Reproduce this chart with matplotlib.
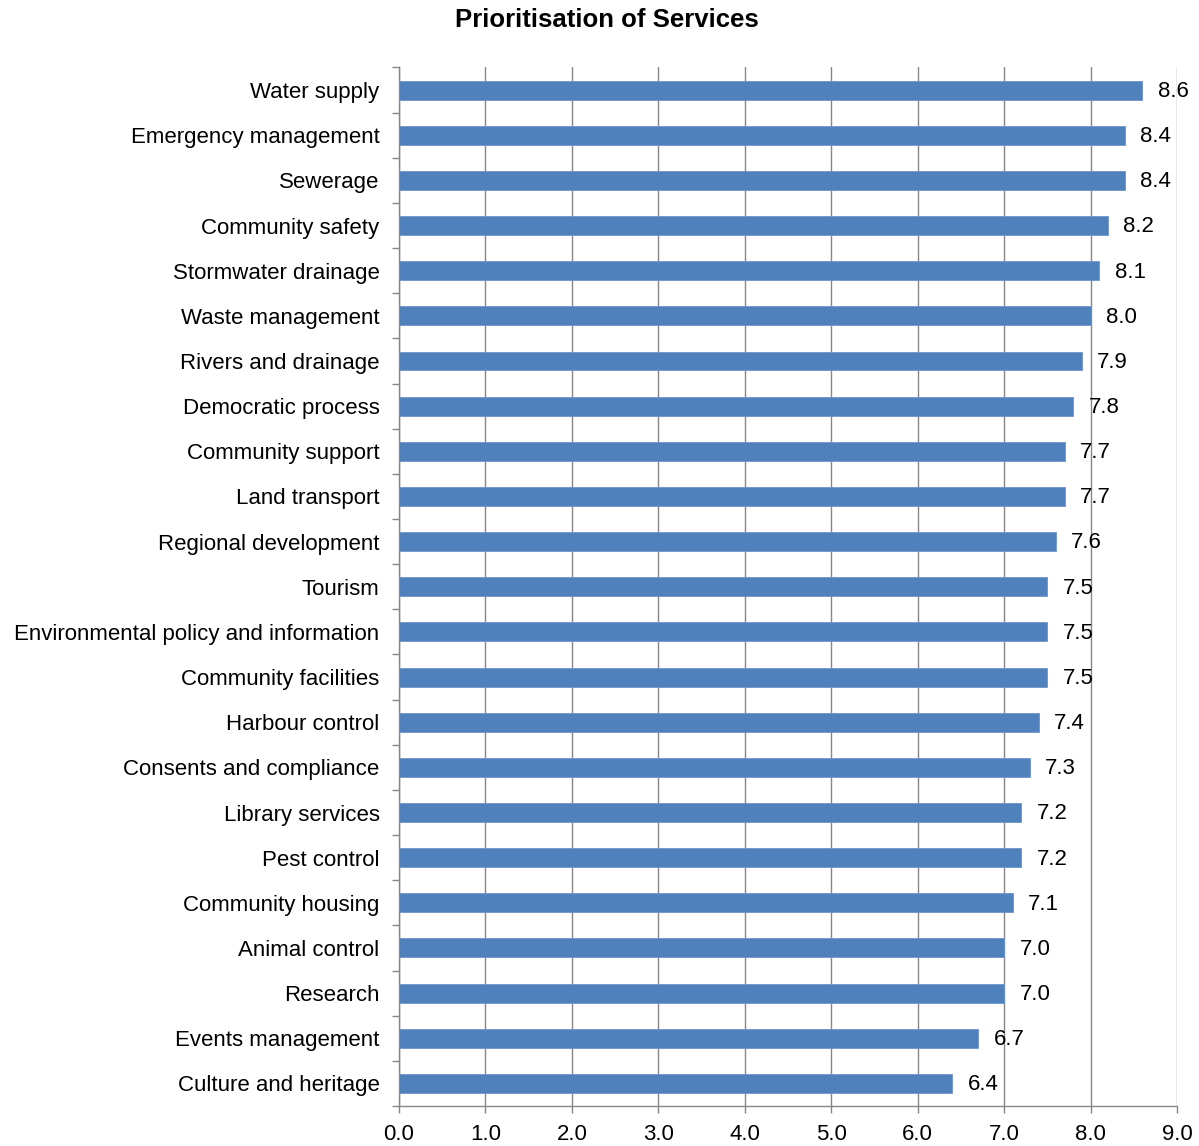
import numpy as np
import matplotlib.pyplot as plt

plt.rcParams['font.family'] = ['Liberation Sans', 'DejaVu Sans']

services = [
    "Water supply", "Emergency management", "Sewerage", "Community safety",
    "Stormwater drainage", "Waste management", "Rivers and drainage",
    "Democratic process", "Community support", "Land transport",
    "Regional development", "Tourism", "Environmental policy and information",
    "Community facilities", "Harbour control", "Consents and compliance",
    "Library services", "Pest control", "Community housing", "Animal control",
    "Research", "Events management", "Culture and heritage",
]
scores = [8.6, 8.4, 8.4, 8.2, 8.1, 8.0, 7.9, 7.8, 7.7, 7.7, 7.6, 7.5, 7.5,
          7.5, 7.4, 7.3, 7.2, 7.2, 7.1, 7.0, 7.0, 6.7, 6.4]
x_ticks = np.arange(0, 10, 1)

fig = plt.figure(figsize=(11.99, 11.46), dpi=100)
ax = fig.add_axes([0.3328, 0.0349, 0.6489, 0.9062])

y = np.arange(len(services))
ax.barh(y, scores, height=0.42, color='#4F81BD', edgecolor='#6D95C8',
        linewidth=0.6, zorder=3)

for yi, v in zip(y, scores):
    ax.annotate(f"{v:.1f}", (v, yi), xytext=(11, -1), textcoords='offset points',
                ha='left', va='center', fontsize=16, zorder=4)

ax.set_xlim(0, 9)
ax.set_ylim(len(services) - 0.5, -0.5)
ax.set_xticks(x_ticks)
ax.set_xticklabels([f"{t:.1f}" for t in x_ticks], fontsize=16)
ax.set_yticks(y)
ax.set_yticklabels(services, fontsize=16)
ax.set_yticks(np.arange(len(services) + 1) - 0.5, minor=True)

ax.tick_params(axis='y', which='major', length=0, pad=14)
ax.tick_params(axis='y', which='minor', length=5, color='#868686', width=1)
ax.tick_params(axis='x', length=5, color='#868686', width=1, pad=8)

ax.grid(axis='x', color='#868686', linewidth=1, zorder=0)
for side in ['top', 'right']:
    ax.spines[side].set_visible(False)
for side in ['left', 'bottom']:
    ax.spines[side].set_color('#868686')
    ax.spines[side].set_linewidth(1)

fig.text(607 / 1199, 1 - 20 / 1146, "Prioritisation of Services",
         ha='center', va='center', fontsize=18.5, fontweight='bold')

fig.savefig('out.png', dpi=100)
